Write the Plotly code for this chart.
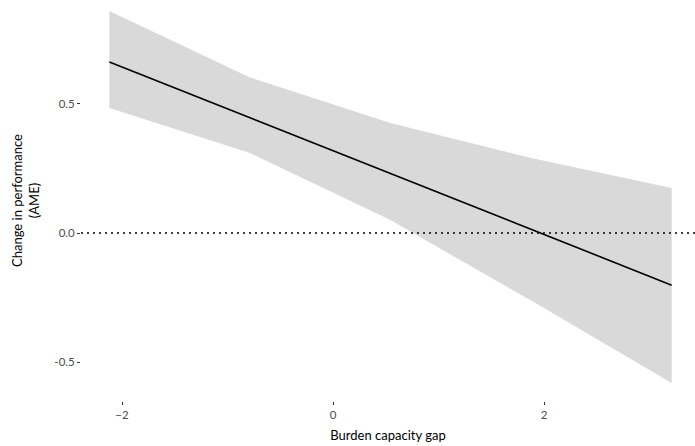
import plotly.graph_objects as go

# Marginal effect of the burden capacity gap on performance
gap = [-2.12, -0.7875, 0.545, 1.8775, 3.21]
ame = [0.663, 0.447, 0.230, 0.014, -0.202]
ci_lower = [0.484, 0.310, 0.050, -0.262, -0.581]
ci_upper = [0.860, 0.603, 0.426, 0.291, 0.174]

x_ticks = [-2, 0, 2]
y_ticks = [-0.5, 0.0, 0.5]
y_tick_text = ["-0.5", "0.0", "0.5"]

font_family = "Source Sans Pro, Lato, Noto Sans, sans-serif"
ribbon = "#d9d9d9"

fig = go.Figure()

# confidence band
fig.add_trace(go.Scatter(x=gap, y=ci_lower, mode="lines",
                         line=dict(width=0, color=ribbon),
                         hoverinfo="skip", showlegend=False))
fig.add_trace(go.Scatter(x=gap, y=ci_upper, mode="lines",
                         line=dict(width=0, color=ribbon),
                         fill="tonexty", fillcolor=ribbon,
                         hoverinfo="skip", showlegend=False))
# point estimate
fig.add_trace(go.Scatter(x=gap, y=ame, mode="lines",
                         line=dict(width=1.6, color="black"),
                         showlegend=False))

# reference line at zero
fig.add_hline(y=0, line=dict(color="black", width=1.4, dash="2px,4px"))

fig.update_layout(
    width=695, height=446,
    margin=dict(l=81, r=0, t=0, b=45),
    paper_bgcolor="white", plot_bgcolor="white",
    font=dict(family=font_family, color="black"),
    xaxis=dict(
        range=[-2.389, 3.431], tickvals=x_ticks,
        showgrid=False, zeroline=False, showline=False,
        ticks="outside", ticklen=3, tickwidth=1, tickcolor="#333333",
        tickfont=dict(size=11.5, color="#4d4d4d", family=font_family),
        title=dict(text="Burden capacity gap", standoff=11,
                   font=dict(size=13, color="black", family=font_family)),
    ),
    yaxis=dict(
        range=[-0.651, 0.903], tickvals=y_ticks, ticktext=y_tick_text,
        showgrid=False, zeroline=False, showline=False,
        ticks="outside", ticklen=3, tickwidth=1, tickcolor="#333333",
        tickfont=dict(size=11.5, color="#4d4d4d", family=font_family),
        title=dict(text="Change in performance<br>(AME)", standoff=11,
                   font=dict(size=13, color="black", family=font_family)),
    ),
)

fig.write_html("out.html")
